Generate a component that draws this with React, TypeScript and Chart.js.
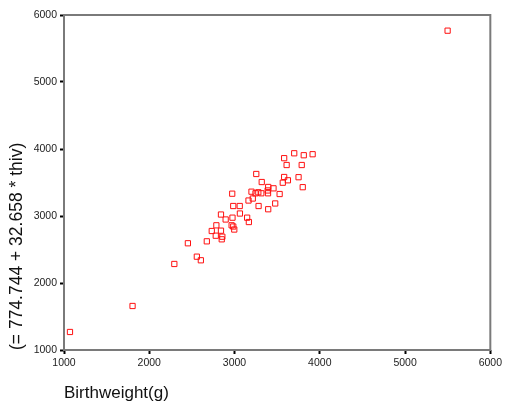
import React, { useEffect, useRef } from "react";
import { Chart, registerables } from "chart.js";

Chart.register(...registerables);

const birthweight: number[] = [
  1070, 1804, 2294, 2453, 2558, 2605, 2675, 2733, 2780, 2787,
  2841, 2857, 2850, 2841, 2896, 2966, 2985, 2997, 2976, 3063,
  2985, 3061, 2973, 3148, 3168, 3164, 3214, 3199, 3246, 3279,
  3314, 3282, 3255, 3319, 3395, 3389, 3457, 3393, 3395, 3477,
  3529, 3566, 3582, 3626, 3582, 3611, 3700, 3751, 3788, 3800,
  3812, 3916, 5499,
];
const predicted: number[] = [
  1269, 1657, 2284, 2593, 2393, 2339, 2622, 2776, 2706, 2861,
  2781, 2691, 2652, 3022, 2948, 2861, 2843, 2798, 2975, 3037,
  3149, 3149, 3333, 2975, 2910, 3231, 3261, 3363, 3339, 3354,
  3339, 3149, 3627, 3507, 3433, 3381, 3413, 3339, 3101, 3187,
  3328, 3497, 3582, 3533, 3863, 3761, 3936, 3579, 3761, 3430,
  3907, 3922, 5766,
];
const axisTicks: number[] = [1000, 2000, 3000, 4000, 5000, 6000];
const xTitle = "Birthweight(g)";
const yTitle = "(= 774.744 + 32.658 * thiv)";

const FONT = "'Liberation Sans', Arial, sans-serif";

const framePlugin = {
  id: "frame",
  beforeDatasetsDraw(chart: any) {
    const { ctx, chartArea } = chart;
    ctx.save();
    ctx.strokeStyle = "#7a7a7a";
    ctx.lineWidth = 2;
    ctx.strokeRect(chartArea.left, chartArea.top, chartArea.right - chartArea.left, chartArea.bottom - chartArea.top);
    ctx.restore();
  },
};

export default function App() {
  const ref = useRef<HTMLCanvasElement | null>(null);
  useEffect(() => {
    if (!ref.current) return;
    const points = birthweight.map((x, i) => ({ x, y: predicted[i] }));
    const tickCfg = {
      font: { family: FONT, size: 10.5 },
      color: "#222",
      padding: 3,
      autoSkip: false,
      maxRotation: 0,
      callback: (v: any) => String(v),
    };
    const gridCfg = {
      display: true,
      drawOnChartArea: false,
      drawTicks: true,
      tickLength: 4,
      tickColor: "#000",
      tickWidth: 2,
      color: "#000",
    };
    const chart = new Chart(ref.current, {
      type: "scatter",
      data: {
        datasets: [
          {
            data: points,
            pointStyle: "rect",
            pointRadius: 3.7,
            pointHoverRadius: 3.7,
            borderColor: "#ff1010",
            backgroundColor: "rgba(255,255,255,0)",
            borderWidth: 1,
          },
        ],
      },
      options: {
        responsive: false,
        animation: false,
        events: [],
        layout: { padding: { top: 15, right: 12, left: 0, bottom: 0 } },
        plugins: { legend: { display: false }, tooltip: { enabled: false } },
        scales: {
          x: {
            type: "linear",
            min: 1000,
            max: 6000,
            afterBuildTicks: (s: any) => {
              s.ticks = axisTicks.map((v) => ({ value: v }));
            },
            afterFit: (s: any) => {
              s.height = 60;
            },
            ticks: tickCfg,
            grid: gridCfg,
            border: { display: false },
            title: {
              display: true,
              text: xTitle,
              align: "start",
              color: "#111",
              font: { family: FONT, size: 17 },
              padding: { top: 0, bottom: 6 },
            },
          },
          y: {
            type: "linear",
            min: 1000,
            max: 6000,
            afterBuildTicks: (s: any) => {
              s.ticks = axisTicks.map((v) => ({ value: v }));
            },
            afterFit: (s: any) => {
              s.width = 64;
            },
            ticks: tickCfg,
            grid: gridCfg,
            border: { display: false },
            title: {
              display: true,
              text: yTitle,
              align: "start",
              color: "#111",
              font: { family: FONT, size: 17.5 },
              padding: { top: 7, bottom: 0 },
            },
          },
        },
      },
      plugins: [framePlugin],
    });
    return () => chart.destroy();
  }, []);
  return (
    <div style={{ position: "fixed", left: 0, top: 0, width: 505, height: 410, background: "#fff" }}>
      <canvas ref={ref} width={505} height={410} />
    </div>
  );
}
